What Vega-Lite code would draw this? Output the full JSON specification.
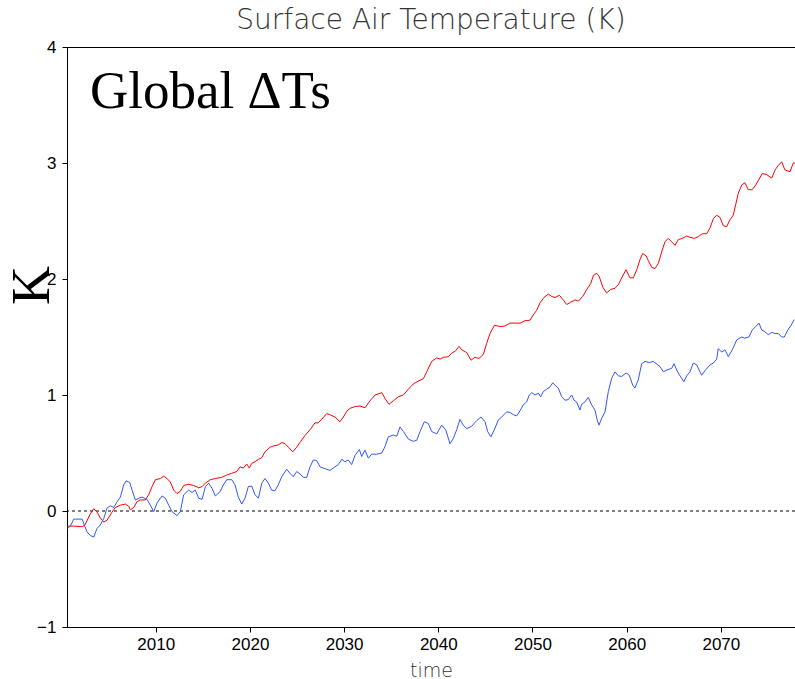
{
  "$schema": "https://vega.github.io/schema/vega-lite/v6.json",
  "autosize": {"type": "none"},
  "width": 728,
  "height": 580,
  "padding": {"left": 67, "top": 47, "right": 0, "bottom": 52},
  "background": "white",
  "config": {
    "view": {"stroke": "black", "strokeWidth": 1},
    "axis": {
      "grid": false,
      "domainColor": "black",
      "domainWidth": 1,
      "tickColor": "black",
      "tickSize": 5,
      "labelColor": "black",
      "labelFont": "Liberation Sans",
      "labelFontSize": 17
    }
  },
  "title": {
    "text": "Surface Air Temperature (K)",
    "font": "DejaVu Sans",
    "fontSize": 28,
    "fontWeight": 200,
    "color": "#333333",
    "offset": 3,
    "anchor": "middle"
  },
  "datasets": {
    "series": [
      {"t": 2000.59, "v": -0.13, "s": "A"},
      {"t": 2001.30, "v": -0.13, "s": "A"},
      {"t": 2002.18, "v": -0.135, "s": "A"},
      {"t": 2002.49, "v": -0.12, "s": "A"},
      {"t": 2003.02, "v": -0.03, "s": "A"},
      {"t": 2003.42, "v": 0.02, "s": "A"},
      {"t": 2003.77, "v": -0.01, "s": "A"},
      {"t": 2004.12, "v": -0.06, "s": "A"},
      {"t": 2004.48, "v": -0.095, "s": "A"},
      {"t": 2004.83, "v": -0.08, "s": "A"},
      {"t": 2005.36, "v": -0.01, "s": "A"},
      {"t": 2005.71, "v": 0.03, "s": "A"},
      {"t": 2006.25, "v": 0.05, "s": "A"},
      {"t": 2006.77, "v": 0.06, "s": "A"},
      {"t": 2007.14, "v": 0.04, "s": "A"},
      {"t": 2007.30, "v": 0.01, "s": "A"},
      {"t": 2007.66, "v": 0.03, "s": "A"},
      {"t": 2008.01, "v": 0.08, "s": "A"},
      {"t": 2008.37, "v": 0.095, "s": "A"},
      {"t": 2008.89, "v": 0.095, "s": "A"},
      {"t": 2009.25, "v": 0.14, "s": "A"},
      {"t": 2009.61, "v": 0.21, "s": "A"},
      {"t": 2009.96, "v": 0.27, "s": "A"},
      {"t": 2010.49, "v": 0.28, "s": "A"},
      {"t": 2010.85, "v": 0.30, "s": "A"},
      {"t": 2011.20, "v": 0.28, "s": "A"},
      {"t": 2011.55, "v": 0.25, "s": "A"},
      {"t": 2011.91, "v": 0.18, "s": "A"},
      {"t": 2012.26, "v": 0.15, "s": "A"},
      {"t": 2012.61, "v": 0.17, "s": "A"},
      {"t": 2012.97, "v": 0.22, "s": "A"},
      {"t": 2013.50, "v": 0.23, "s": "A"},
      {"t": 2014.04, "v": 0.22, "s": "A"},
      {"t": 2014.56, "v": 0.20, "s": "A"},
      {"t": 2014.92, "v": 0.21, "s": "A"},
      {"t": 2015.27, "v": 0.24, "s": "A"},
      {"t": 2015.79, "v": 0.27, "s": "A"},
      {"t": 2016.33, "v": 0.28, "s": "A"},
      {"t": 2017.01, "v": 0.29, "s": "A"},
      {"t": 2017.54, "v": 0.31, "s": "A"},
      {"t": 2018.07, "v": 0.325, "s": "A"},
      {"t": 2018.60, "v": 0.34, "s": "A"},
      {"t": 2018.95, "v": 0.38, "s": "A"},
      {"t": 2019.30, "v": 0.37, "s": "A"},
      {"t": 2019.66, "v": 0.405, "s": "A"},
      {"t": 2019.94, "v": 0.37, "s": "A"},
      {"t": 2020.19, "v": 0.41, "s": "A"},
      {"t": 2020.54, "v": 0.425, "s": "A"},
      {"t": 2020.90, "v": 0.445, "s": "A"},
      {"t": 2021.26, "v": 0.46, "s": "A"},
      {"t": 2021.60, "v": 0.51, "s": "A"},
      {"t": 2022.14, "v": 0.55, "s": "A"},
      {"t": 2022.49, "v": 0.56, "s": "A"},
      {"t": 2023.01, "v": 0.57, "s": "A"},
      {"t": 2023.38, "v": 0.59, "s": "A"},
      {"t": 2023.73, "v": 0.58, "s": "A"},
      {"t": 2024.08, "v": 0.55, "s": "A"},
      {"t": 2024.54, "v": 0.51, "s": "A"},
      {"t": 2024.97, "v": 0.55, "s": "A"},
      {"t": 2025.39, "v": 0.60, "s": "A"},
      {"t": 2025.84, "v": 0.65, "s": "A"},
      {"t": 2026.38, "v": 0.70, "s": "A"},
      {"t": 2026.91, "v": 0.76, "s": "A"},
      {"t": 2027.26, "v": 0.76, "s": "A"},
      {"t": 2027.62, "v": 0.79, "s": "A"},
      {"t": 2028.15, "v": 0.84, "s": "A"},
      {"t": 2028.50, "v": 0.83, "s": "A"},
      {"t": 2029.04, "v": 0.81, "s": "A"},
      {"t": 2029.56, "v": 0.77, "s": "A"},
      {"t": 2029.92, "v": 0.81, "s": "A"},
      {"t": 2030.28, "v": 0.86, "s": "A"},
      {"t": 2030.63, "v": 0.885, "s": "A"},
      {"t": 2031.16, "v": 0.90, "s": "A"},
      {"t": 2031.69, "v": 0.905, "s": "A"},
      {"t": 2032.22, "v": 0.89, "s": "A"},
      {"t": 2032.75, "v": 0.95, "s": "A"},
      {"t": 2033.28, "v": 1.00, "s": "A"},
      {"t": 2034.00, "v": 1.02, "s": "A"},
      {"t": 2034.34, "v": 0.97, "s": "A"},
      {"t": 2034.76, "v": 0.92, "s": "A"},
      {"t": 2035.23, "v": 0.95, "s": "A"},
      {"t": 2035.75, "v": 0.985, "s": "A"},
      {"t": 2036.29, "v": 1.00, "s": "A"},
      {"t": 2036.82, "v": 1.05, "s": "A"},
      {"t": 2037.34, "v": 1.095, "s": "A"},
      {"t": 2037.88, "v": 1.12, "s": "A"},
      {"t": 2038.41, "v": 1.14, "s": "A"},
      {"t": 2038.77, "v": 1.20, "s": "A"},
      {"t": 2039.30, "v": 1.29, "s": "A"},
      {"t": 2039.83, "v": 1.32, "s": "A"},
      {"t": 2040.19, "v": 1.31, "s": "A"},
      {"t": 2040.54, "v": 1.325, "s": "A"},
      {"t": 2041.06, "v": 1.33, "s": "A"},
      {"t": 2041.43, "v": 1.36, "s": "A"},
      {"t": 2041.84, "v": 1.38, "s": "A"},
      {"t": 2042.19, "v": 1.42, "s": "A"},
      {"t": 2042.49, "v": 1.39, "s": "A"},
      {"t": 2043.02, "v": 1.365, "s": "A"},
      {"t": 2043.48, "v": 1.30, "s": "A"},
      {"t": 2043.89, "v": 1.325, "s": "A"},
      {"t": 2044.32, "v": 1.315, "s": "A"},
      {"t": 2044.78, "v": 1.35, "s": "A"},
      {"t": 2045.13, "v": 1.445, "s": "A"},
      {"t": 2045.49, "v": 1.53, "s": "A"},
      {"t": 2045.95, "v": 1.60, "s": "A"},
      {"t": 2046.31, "v": 1.595, "s": "A"},
      {"t": 2046.66, "v": 1.59, "s": "A"},
      {"t": 2047.08, "v": 1.595, "s": "A"},
      {"t": 2047.61, "v": 1.62, "s": "A"},
      {"t": 2048.14, "v": 1.62, "s": "A"},
      {"t": 2048.68, "v": 1.62, "s": "A"},
      {"t": 2049.20, "v": 1.64, "s": "A"},
      {"t": 2049.73, "v": 1.645, "s": "A"},
      {"t": 2050.08, "v": 1.69, "s": "A"},
      {"t": 2050.44, "v": 1.73, "s": "A"},
      {"t": 2050.80, "v": 1.795, "s": "A"},
      {"t": 2051.22, "v": 1.84, "s": "A"},
      {"t": 2051.67, "v": 1.87, "s": "A"},
      {"t": 2052.04, "v": 1.85, "s": "A"},
      {"t": 2052.39, "v": 1.84, "s": "A"},
      {"t": 2052.85, "v": 1.86, "s": "A"},
      {"t": 2053.27, "v": 1.82, "s": "A"},
      {"t": 2053.63, "v": 1.78, "s": "A"},
      {"t": 2054.05, "v": 1.80, "s": "A"},
      {"t": 2054.52, "v": 1.82, "s": "A"},
      {"t": 2054.87, "v": 1.81, "s": "A"},
      {"t": 2055.33, "v": 1.85, "s": "A"},
      {"t": 2055.76, "v": 1.91, "s": "A"},
      {"t": 2056.18, "v": 1.96, "s": "A"},
      {"t": 2056.46, "v": 2.03, "s": "A"},
      {"t": 2056.82, "v": 2.05, "s": "A"},
      {"t": 2057.09, "v": 2.02, "s": "A"},
      {"t": 2057.46, "v": 1.93, "s": "A"},
      {"t": 2057.87, "v": 1.88, "s": "A"},
      {"t": 2058.30, "v": 1.91, "s": "A"},
      {"t": 2058.76, "v": 1.92, "s": "A"},
      {"t": 2059.11, "v": 1.95, "s": "A"},
      {"t": 2059.47, "v": 2.01, "s": "A"},
      {"t": 2059.93, "v": 2.08, "s": "A"},
      {"t": 2060.35, "v": 2.01, "s": "A"},
      {"t": 2060.70, "v": 2.01, "s": "A"},
      {"t": 2061.12, "v": 2.09, "s": "A"},
      {"t": 2061.42, "v": 2.17, "s": "A"},
      {"t": 2061.70, "v": 2.22, "s": "A"},
      {"t": 2062.05, "v": 2.20, "s": "A"},
      {"t": 2062.29, "v": 2.16, "s": "A"},
      {"t": 2062.66, "v": 2.10, "s": "A"},
      {"t": 2063.01, "v": 2.09, "s": "A"},
      {"t": 2063.36, "v": 2.135, "s": "A"},
      {"t": 2063.72, "v": 2.235, "s": "A"},
      {"t": 2064.06, "v": 2.32, "s": "A"},
      {"t": 2064.41, "v": 2.35, "s": "A"},
      {"t": 2064.78, "v": 2.32, "s": "A"},
      {"t": 2065.13, "v": 2.29, "s": "A"},
      {"t": 2065.48, "v": 2.34, "s": "A"},
      {"t": 2065.90, "v": 2.35, "s": "A"},
      {"t": 2066.37, "v": 2.37, "s": "A"},
      {"t": 2066.72, "v": 2.36, "s": "A"},
      {"t": 2067.18, "v": 2.35, "s": "A"},
      {"t": 2067.61, "v": 2.365, "s": "A"},
      {"t": 2068.02, "v": 2.39, "s": "A"},
      {"t": 2068.49, "v": 2.39, "s": "A"},
      {"t": 2068.85, "v": 2.44, "s": "A"},
      {"t": 2069.20, "v": 2.52, "s": "A"},
      {"t": 2069.56, "v": 2.55, "s": "A"},
      {"t": 2069.91, "v": 2.53, "s": "A"},
      {"t": 2070.25, "v": 2.46, "s": "A"},
      {"t": 2070.61, "v": 2.45, "s": "A"},
      {"t": 2070.96, "v": 2.51, "s": "A"},
      {"t": 2071.31, "v": 2.55, "s": "A"},
      {"t": 2071.57, "v": 2.64, "s": "A"},
      {"t": 2071.85, "v": 2.74, "s": "A"},
      {"t": 2072.21, "v": 2.81, "s": "A"},
      {"t": 2072.55, "v": 2.83, "s": "A"},
      {"t": 2072.91, "v": 2.77, "s": "A"},
      {"t": 2073.33, "v": 2.77, "s": "A"},
      {"t": 2073.70, "v": 2.81, "s": "A"},
      {"t": 2074.05, "v": 2.86, "s": "A"},
      {"t": 2074.40, "v": 2.91, "s": "A"},
      {"t": 2074.86, "v": 2.90, "s": "A"},
      {"t": 2075.40, "v": 2.87, "s": "A"},
      {"t": 2075.75, "v": 2.94, "s": "A"},
      {"t": 2076.10, "v": 2.98, "s": "A"},
      {"t": 2076.46, "v": 3.01, "s": "A"},
      {"t": 2076.80, "v": 2.94, "s": "A"},
      {"t": 2077.34, "v": 2.925, "s": "A"},
      {"t": 2077.69, "v": 3.00, "s": "A"},
      {"t": 2077.87, "v": 3.00, "s": "A"},

      {"t": 2000.59, "v": -0.15, "s": "B"},
      {"t": 2000.94, "v": -0.13, "s": "B"},
      {"t": 2001.30, "v": -0.07, "s": "B"},
      {"t": 2001.65, "v": -0.07, "s": "B"},
      {"t": 2002.18, "v": -0.07, "s": "B"},
      {"t": 2002.35, "v": -0.105, "s": "B"},
      {"t": 2002.70, "v": -0.18, "s": "B"},
      {"t": 2003.05, "v": -0.21, "s": "B"},
      {"t": 2003.42, "v": -0.225, "s": "B"},
      {"t": 2003.77, "v": -0.15, "s": "B"},
      {"t": 2004.12, "v": -0.12, "s": "B"},
      {"t": 2004.48, "v": -0.065, "s": "B"},
      {"t": 2004.83, "v": 0.025, "s": "B"},
      {"t": 2005.18, "v": 0.045, "s": "B"},
      {"t": 2005.54, "v": 0.03, "s": "B"},
      {"t": 2005.90, "v": 0.08, "s": "B"},
      {"t": 2006.25, "v": 0.12, "s": "B"},
      {"t": 2006.60, "v": 0.225, "s": "B"},
      {"t": 2006.88, "v": 0.26, "s": "B"},
      {"t": 2007.24, "v": 0.245, "s": "B"},
      {"t": 2007.49, "v": 0.18, "s": "B"},
      {"t": 2007.84, "v": 0.095, "s": "B"},
      {"t": 2008.20, "v": 0.11, "s": "B"},
      {"t": 2008.54, "v": 0.12, "s": "B"},
      {"t": 2009.08, "v": 0.10, "s": "B"},
      {"t": 2009.43, "v": 0.05, "s": "B"},
      {"t": 2009.79, "v": -0.005, "s": "B"},
      {"t": 2010.14, "v": 0.07, "s": "B"},
      {"t": 2010.67, "v": 0.13, "s": "B"},
      {"t": 2011.02, "v": 0.11, "s": "B"},
      {"t": 2011.38, "v": 0.05, "s": "B"},
      {"t": 2011.73, "v": -0.005, "s": "B"},
      {"t": 2012.26, "v": -0.04, "s": "B"},
      {"t": 2012.61, "v": -0.005, "s": "B"},
      {"t": 2012.97, "v": 0.14, "s": "B"},
      {"t": 2013.50, "v": 0.18, "s": "B"},
      {"t": 2013.85, "v": 0.16, "s": "B"},
      {"t": 2014.20, "v": 0.18, "s": "B"},
      {"t": 2014.56, "v": 0.11, "s": "B"},
      {"t": 2014.92, "v": 0.10, "s": "B"},
      {"t": 2015.27, "v": 0.21, "s": "B"},
      {"t": 2015.63, "v": 0.24, "s": "B"},
      {"t": 2015.98, "v": 0.195, "s": "B"},
      {"t": 2016.33, "v": 0.13, "s": "B"},
      {"t": 2016.82, "v": 0.165, "s": "B"},
      {"t": 2017.18, "v": 0.225, "s": "B"},
      {"t": 2017.54, "v": 0.27, "s": "B"},
      {"t": 2018.07, "v": 0.27, "s": "B"},
      {"t": 2018.42, "v": 0.225, "s": "B"},
      {"t": 2018.77, "v": 0.12, "s": "B"},
      {"t": 2019.13, "v": 0.06, "s": "B"},
      {"t": 2019.48, "v": 0.11, "s": "B"},
      {"t": 2019.83, "v": 0.21, "s": "B"},
      {"t": 2020.19, "v": 0.215, "s": "B"},
      {"t": 2020.54, "v": 0.14, "s": "B"},
      {"t": 2020.90, "v": 0.11, "s": "B"},
      {"t": 2021.26, "v": 0.24, "s": "B"},
      {"t": 2021.60, "v": 0.28, "s": "B"},
      {"t": 2021.95, "v": 0.24, "s": "B"},
      {"t": 2022.31, "v": 0.18, "s": "B"},
      {"t": 2022.66, "v": 0.175, "s": "B"},
      {"t": 2023.01, "v": 0.225, "s": "B"},
      {"t": 2023.38, "v": 0.295, "s": "B"},
      {"t": 2023.90, "v": 0.36, "s": "B"},
      {"t": 2024.25, "v": 0.325, "s": "B"},
      {"t": 2024.60, "v": 0.295, "s": "B"},
      {"t": 2024.97, "v": 0.34, "s": "B"},
      {"t": 2025.32, "v": 0.32, "s": "B"},
      {"t": 2025.67, "v": 0.29, "s": "B"},
      {"t": 2026.03, "v": 0.29, "s": "B"},
      {"t": 2026.38, "v": 0.38, "s": "B"},
      {"t": 2026.73, "v": 0.44, "s": "B"},
      {"t": 2027.09, "v": 0.435, "s": "B"},
      {"t": 2027.45, "v": 0.38, "s": "B"},
      {"t": 2027.80, "v": 0.37, "s": "B"},
      {"t": 2028.15, "v": 0.36, "s": "B"},
      {"t": 2028.50, "v": 0.35, "s": "B"},
      {"t": 2028.85, "v": 0.37, "s": "B"},
      {"t": 2029.39, "v": 0.40, "s": "B"},
      {"t": 2029.75, "v": 0.445, "s": "B"},
      {"t": 2030.09, "v": 0.425, "s": "B"},
      {"t": 2030.44, "v": 0.44, "s": "B"},
      {"t": 2030.80, "v": 0.40, "s": "B"},
      {"t": 2031.16, "v": 0.48, "s": "B"},
      {"t": 2031.62, "v": 0.53, "s": "B"},
      {"t": 2031.87, "v": 0.47, "s": "B"},
      {"t": 2032.22, "v": 0.525, "s": "B"},
      {"t": 2032.57, "v": 0.455, "s": "B"},
      {"t": 2032.93, "v": 0.49, "s": "B"},
      {"t": 2033.46, "v": 0.49, "s": "B"},
      {"t": 2034.00, "v": 0.50, "s": "B"},
      {"t": 2034.34, "v": 0.555, "s": "B"},
      {"t": 2034.69, "v": 0.64, "s": "B"},
      {"t": 2035.23, "v": 0.655, "s": "B"},
      {"t": 2035.59, "v": 0.645, "s": "B"},
      {"t": 2035.94, "v": 0.725, "s": "B"},
      {"t": 2036.29, "v": 0.685, "s": "B"},
      {"t": 2036.82, "v": 0.62, "s": "B"},
      {"t": 2037.34, "v": 0.60, "s": "B"},
      {"t": 2037.71, "v": 0.61, "s": "B"},
      {"t": 2038.06, "v": 0.685, "s": "B"},
      {"t": 2038.52, "v": 0.77, "s": "B"},
      {"t": 2038.93, "v": 0.755, "s": "B"},
      {"t": 2039.30, "v": 0.685, "s": "B"},
      {"t": 2039.83, "v": 0.665, "s": "B"},
      {"t": 2040.36, "v": 0.74, "s": "B"},
      {"t": 2040.79, "v": 0.70, "s": "B"},
      {"t": 2041.24, "v": 0.58, "s": "B"},
      {"t": 2041.59, "v": 0.625, "s": "B"},
      {"t": 2041.95, "v": 0.70, "s": "B"},
      {"t": 2042.30, "v": 0.79, "s": "B"},
      {"t": 2042.65, "v": 0.74, "s": "B"},
      {"t": 2043.02, "v": 0.71, "s": "B"},
      {"t": 2043.54, "v": 0.73, "s": "B"},
      {"t": 2044.08, "v": 0.78, "s": "B"},
      {"t": 2044.53, "v": 0.81, "s": "B"},
      {"t": 2044.96, "v": 0.77, "s": "B"},
      {"t": 2045.24, "v": 0.685, "s": "B"},
      {"t": 2045.59, "v": 0.64, "s": "B"},
      {"t": 2045.95, "v": 0.70, "s": "B"},
      {"t": 2046.37, "v": 0.785, "s": "B"},
      {"t": 2046.73, "v": 0.81, "s": "B"},
      {"t": 2047.26, "v": 0.855, "s": "B"},
      {"t": 2047.61, "v": 0.85, "s": "B"},
      {"t": 2047.97, "v": 0.83, "s": "B"},
      {"t": 2048.33, "v": 0.82, "s": "B"},
      {"t": 2048.68, "v": 0.865, "s": "B"},
      {"t": 2049.02, "v": 0.915, "s": "B"},
      {"t": 2049.38, "v": 0.94, "s": "B"},
      {"t": 2049.66, "v": 1.00, "s": "B"},
      {"t": 2049.92, "v": 1.02, "s": "B"},
      {"t": 2050.27, "v": 1.00, "s": "B"},
      {"t": 2050.62, "v": 1.015, "s": "B"},
      {"t": 2050.87, "v": 0.985, "s": "B"},
      {"t": 2051.15, "v": 1.03, "s": "B"},
      {"t": 2051.51, "v": 1.05, "s": "B"},
      {"t": 2051.86, "v": 1.07, "s": "B"},
      {"t": 2052.15, "v": 1.105, "s": "B"},
      {"t": 2052.39, "v": 1.085, "s": "B"},
      {"t": 2052.74, "v": 1.06, "s": "B"},
      {"t": 2053.10, "v": 0.985, "s": "B"},
      {"t": 2053.45, "v": 0.955, "s": "B"},
      {"t": 2053.80, "v": 0.96, "s": "B"},
      {"t": 2054.16, "v": 1.00, "s": "B"},
      {"t": 2054.41, "v": 0.955, "s": "B"},
      {"t": 2054.69, "v": 0.94, "s": "B"},
      {"t": 2055.04, "v": 0.87, "s": "B"},
      {"t": 2055.22, "v": 0.92, "s": "B"},
      {"t": 2055.57, "v": 0.94, "s": "B"},
      {"t": 2055.92, "v": 0.98, "s": "B"},
      {"t": 2056.28, "v": 0.915, "s": "B"},
      {"t": 2056.63, "v": 0.87, "s": "B"},
      {"t": 2056.87, "v": 0.785, "s": "B"},
      {"t": 2057.06, "v": 0.74, "s": "B"},
      {"t": 2057.35, "v": 0.80, "s": "B"},
      {"t": 2057.70, "v": 0.855, "s": "B"},
      {"t": 2058.05, "v": 1.03, "s": "B"},
      {"t": 2058.41, "v": 1.145, "s": "B"},
      {"t": 2058.76, "v": 1.20, "s": "B"},
      {"t": 2059.11, "v": 1.165, "s": "B"},
      {"t": 2059.47, "v": 1.16, "s": "B"},
      {"t": 2059.93, "v": 1.19, "s": "B"},
      {"t": 2060.28, "v": 1.17, "s": "B"},
      {"t": 2060.64, "v": 1.085, "s": "B"},
      {"t": 2060.88, "v": 1.06, "s": "B"},
      {"t": 2061.23, "v": 1.13, "s": "B"},
      {"t": 2061.59, "v": 1.27, "s": "B"},
      {"t": 2061.94, "v": 1.29, "s": "B"},
      {"t": 2062.40, "v": 1.28, "s": "B"},
      {"t": 2062.82, "v": 1.29, "s": "B"},
      {"t": 2063.54, "v": 1.245, "s": "B"},
      {"t": 2063.89, "v": 1.20, "s": "B"},
      {"t": 2064.25, "v": 1.215, "s": "B"},
      {"t": 2064.78, "v": 1.23, "s": "B"},
      {"t": 2065.03, "v": 1.27, "s": "B"},
      {"t": 2065.31, "v": 1.215, "s": "B"},
      {"t": 2065.66, "v": 1.165, "s": "B"},
      {"t": 2066.08, "v": 1.115, "s": "B"},
      {"t": 2066.37, "v": 1.165, "s": "B"},
      {"t": 2066.72, "v": 1.20, "s": "B"},
      {"t": 2067.07, "v": 1.275, "s": "B"},
      {"t": 2067.43, "v": 1.26, "s": "B"},
      {"t": 2067.96, "v": 1.17, "s": "B"},
      {"t": 2068.31, "v": 1.21, "s": "B"},
      {"t": 2068.85, "v": 1.26, "s": "B"},
      {"t": 2069.20, "v": 1.275, "s": "B"},
      {"t": 2069.56, "v": 1.31, "s": "B"},
      {"t": 2069.72, "v": 1.40, "s": "B"},
      {"t": 2070.09, "v": 1.37, "s": "B"},
      {"t": 2070.44, "v": 1.39, "s": "B"},
      {"t": 2070.79, "v": 1.33, "s": "B"},
      {"t": 2071.22, "v": 1.39, "s": "B"},
      {"t": 2071.68, "v": 1.475, "s": "B"},
      {"t": 2072.21, "v": 1.50, "s": "B"},
      {"t": 2072.55, "v": 1.49, "s": "B"},
      {"t": 2072.98, "v": 1.50, "s": "B"},
      {"t": 2073.33, "v": 1.56, "s": "B"},
      {"t": 2073.70, "v": 1.59, "s": "B"},
      {"t": 2074.05, "v": 1.62, "s": "B"},
      {"t": 2074.33, "v": 1.56, "s": "B"},
      {"t": 2074.68, "v": 1.545, "s": "B"},
      {"t": 2075.03, "v": 1.52, "s": "B"},
      {"t": 2075.40, "v": 1.54, "s": "B"},
      {"t": 2075.75, "v": 1.53, "s": "B"},
      {"t": 2076.10, "v": 1.53, "s": "B"},
      {"t": 2076.46, "v": 1.50, "s": "B"},
      {"t": 2076.73, "v": 1.50, "s": "B"},
      {"t": 2077.10, "v": 1.56, "s": "B"},
      {"t": 2077.45, "v": 1.60, "s": "B"},
      {"t": 2077.79, "v": 1.65, "s": "B"}
    ]
  },
  "layer": [
    {
      "data": {"values": [{}]},
      "mark": {"type": "rule", "color": "black", "strokeWidth": 1, "strokeDash": [3, 3]},
      "encoding": {"y": {"datum": 0, "type": "quantitative"}}
    },
    {
      "data": {"name": "series"},
      "mark": {"type": "line", "strokeWidth": 1, "clip": true},
      "encoding": {
        "x": {
          "field": "t",
          "type": "quantitative",
          "scale": {"domain": [2000.58, 2077.87], "nice": false, "zero": false},
          "axis": {
            "values": [2010, 2020, 2030, 2040, 2050, 2060, 2070],
            "format": "d",
            "labelPadding": 4,
            "title": "time",
            "titleFont": "DejaVu Sans",
            "titleFontSize": 19,
            "titleFontWeight": 200,
            "titleColor": "#333333",
            "titleY": 49,
            "titleBaseline": "alphabetic"
          }
        },
        "y": {
          "field": "v",
          "type": "quantitative",
          "scale": {"domain": [-1, 4], "nice": false, "zero": false},
          "axis": {
            "values": [-1, 0, 1, 2, 3, 4],
            "format": "d",
            "labelPadding": 6,
            "title": "K",
            "titleFont": "Liberation Serif",
            "titleFontSize": 54,
            "titleFontWeight": "normal",
            "titleColor": "black",
            "titleX": -19,
            "titleY": 238,
            "titleAlign": "center",
            "titleBaseline": "alphabetic"
          }
        },
        "color": {
          "field": "s",
          "type": "nominal",
          "scale": {"domain": ["A", "B"], "range": ["#ff0000", "#3355ff"]},
          "legend": null
        }
      }
    },
    {
      "data": {"values": [{}]},
      "mark": {"type": "text", "font": "Liberation Serif", "fontSize": 53, "align": "left", "baseline": "alphabetic", "color": "black"},
      "encoding": {
        "x": {"datum": 2003.01, "type": "quantitative"},
        "y": {"datum": 3.47, "type": "quantitative"},
        "text": {"value": "Global ΔTs"}
      }
    }
  ]
}
